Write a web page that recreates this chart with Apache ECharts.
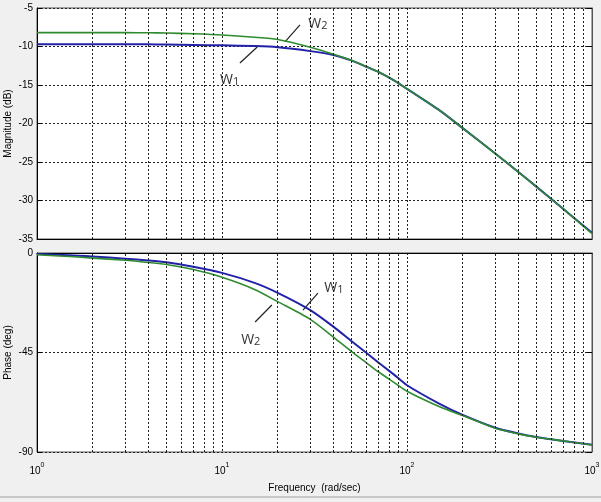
<!DOCTYPE html>
<html>
<head>
<meta charset="utf-8">
<script src="https://cdn.jsdelivr.net/npm/echarts@6/dist/echarts.min.js"></script>
<style>
  html, body { margin: 0; padding: 0; background: #f0f0f0; }
  #bode { width: 601px; height: 502px; }
</style>
</head>
<body>
<div id="bode"></div>
<script>
// frequencies (rad/sec)
var freq = [1, 1.5, 2, 3, 4, 5, 7, 10, 15, 20, 30, 40, 50, 60, 70, 85, 100, 150, 200, 300, 400, 500, 700, 1000];
// magnitude (dB)
var magW1 = [-9.7, -9.7, -9.7, -9.7, -9.7, -9.75, -9.8, -9.85, -9.95, -10.1, -10.6, -11.1, -11.8, -12.6, -13.3, -14.4, -15.5, -18.3, -20.6, -23.9, -26.3, -28.2, -31.1, -34.2];
var magW2 = [-8.2, -8.2, -8.2, -8.2, -8.22, -8.25, -8.35, -8.5, -8.8, -9.1, -10.1, -11.0, -11.8, -12.6, -13.3, -14.4, -15.5, -18.3, -20.6, -23.9, -26.3, -28.2, -31.1, -34.3];
// phase (deg)
var phW1 = [-0.5, -1.0, -1.6, -2.6, -3.4, -4.2, -6.2, -9.0, -13.5, -18.0, -25.8, -33.3, -39.8, -45.0, -49.5, -55.0, -59.8, -68.2, -73.2, -79.0, -81.6, -83.2, -85.0, -86.7];
var phW2 = [-0.8, -1.6, -2.3, -3.3, -4.3, -5.2, -7.5, -11.0, -16.5, -22.0, -30.0, -38.0, -44.5, -49.5, -53.7, -58.5, -62.5, -69.5, -73.5, -79.3, -81.8, -83.3, -85.0, -86.8];
// log minor grid lines
var minorFreq = [2, 3, 4, 5, 6, 7, 8, 9, 20, 30, 40, 50, 60, 70, 80, 90, 200, 300, 400, 500, 600, 700, 800, 900];

// annotation texts and leader lines, in data coordinates [freq, value]
var notes = [
  { grid: 0, text: '2', pos: [33.0, -7.1], line: [[26.4, -7.2], [21.9, -9.4]] },
  { grid: 0, text: '1', pos: [11.0, -14.35], line: [[15.5, -10.06], [12.5, -12.14]] },
  { grid: 1, text: '1', pos: [40.3, -15.8], line: [[33.0, -18.1], [27.4, -25.8]] },
  { grid: 1, text: '2', pos: [14.3, -39.3], line: [[18.6, -23.5], [15.1, -31.2]] }
];

function pairs(xs, ys) {
  return xs.map(function (x, i) { return [x, ys[i]]; });
}

var dotted = { color: '#222', width: 1, type: [2, 2] };

function xAx(idx, labels) {
  return {
    type: 'log', logBase: 10, gridIndex: idx, min: 1, max: 1000,
    axisLine: { show: true, lineStyle: { color: '#000' } },
    axisTick: { show: false },
    splitLine: { show: true, lineStyle: dotted },
    axisLabel: {
      show: labels, margin: 10, color: '#000',
      formatter: function (v) { return '{b|10}{s|' + Math.round(Math.log10(v)) + '}'; },
      rich: {
        b: { fontSize: 10, fontFamily: 'Liberation Sans', color: '#000', verticalAlign: 'bottom', lineHeight: 14 },
        s: { fontSize: 7, fontFamily: 'Liberation Sans', color: '#000', verticalAlign: 'top', lineHeight: 14, padding: [0, 0, 6, 0] }
      }
    },
    name: labels ? 'Frequency  (rad/sec)' : '',
    nameLocation: 'middle', nameGap: 31,
    nameTextStyle: { fontSize: 10, fontFamily: 'Liberation Sans', color: '#000' }
  };
}

function yAx(idx, min, max, step, title, right) {
  return {
    type: 'value', gridIndex: idx, min: min, max: max, interval: step,
    position: right ? 'right' : 'left',
    axisLine: { show: true, lineStyle: { color: right ? '#555' : '#000' } },
    axisTick: { show: true, inside: true, length: 5, lineStyle: { color: '#000' } },
    splitLine: { show: !right, lineStyle: dotted },
    axisLabel: { show: !right, fontSize: 10, fontFamily: 'Liberation Sans', color: '#000', margin: 4 },
    name: right ? '' : title, nameLocation: 'middle', nameRotate: 90, nameGap: 24,
    nameMoveOverlap: false,
    nameTextStyle: { fontSize: 10, fontFamily: 'Liberation Sans', color: '#000' }
  };
}

function curve(name, xi, yi, data, color, width, withMinor) {
  var s = {
    name: name, type: 'line', xAxisIndex: xi, yAxisIndex: yi,
    data: data, showSymbol: false, smooth: 0.25,
    lineStyle: { color: color, width: width }, silent: true
  };
  if (withMinor) {
    s.markLine = {
      silent: true, symbol: ['none', 'none'], label: { show: false },
      lineStyle: dotted,
      data: minorFreq.map(function (f) { return { xAxis: f }; })
    };
  }
  return s;
}

var chart = echarts.init(document.getElementById('bode'));
var option = {
  animation: false,
  backgroundColor: '#f0f0f0',
  grid: [
    { left: 37, top: 8, width: 555, height: 231, show: true, backgroundColor: '#fff', borderColor: '#555', borderWidth: 1, containLabel: false, outerBoundsMode: 'none' },
    { left: 37, top: 253, width: 555, height: 199, show: true, backgroundColor: '#fff', borderColor: '#555', borderWidth: 1, containLabel: false, outerBoundsMode: 'none' }
  ],
  xAxis: [xAx(0, false), xAx(1, true)],
  yAxis: [
    yAx(0, -35, -5, 5, 'Magnitude (dB)', false),
    yAx(1, -90, 0, 45, 'Phase (deg)', false),
    yAx(0, -35, -5, 5, '', true),
    yAx(1, -90, 0, 45, '', true)
  ],
  series: [
    curve('W1', 0, 0, pairs(freq, magW1), '#2222a8', 2, true),
    curve('W2', 0, 0, pairs(freq, magW2), '#2e8b2e', 1.6, false),
    curve('W1', 1, 1, pairs(freq, phW1), '#2222a8', 2, true),
    curve('W2', 1, 1, pairs(freq, phW2), '#2e8b2e', 1.6, false)
  ]
};
chart.setOption(option);

// place annotations through the axes
var graphics = [];
notes.forEach(function (n) {
  var finder = { xAxisIndex: n.grid, yAxisIndex: n.grid };
  var p = chart.convertToPixel(finder, n.pos);
  var a = chart.convertToPixel(finder, n.line[0]);
  var b = chart.convertToPixel(finder, n.line[1]);
  graphics.push({
    type: 'line', silent: true,
    shape: { x1: a[0], y1: a[1], x2: b[0], y2: b[1] },
    style: { stroke: '#222', lineWidth: 1.2 }
  });
  graphics.push({
    type: 'text', silent: true, x: p[0], y: p[1],
    style: {
      text: '{w|W}{d|' + n.text + '}', align: 'center', verticalAlign: 'middle',
      rich: {
        w: { fontSize: 14, fontFamily: 'Open Sans', fill: '#333', verticalAlign: 'bottom' },
        d: { fontSize: 11, fontFamily: 'Open Sans', fill: '#333', verticalAlign: 'bottom' }
      }
    }
  });
});
graphics.push({
  type: 'line', silent: true,
  shape: { x1: 0, y1: 497, x2: 601, y2: 497 },
  style: { stroke: '#a0a0a0', lineWidth: 1 }
});
chart.setOption({ graphic: graphics });
</script>
</body>
</html>
